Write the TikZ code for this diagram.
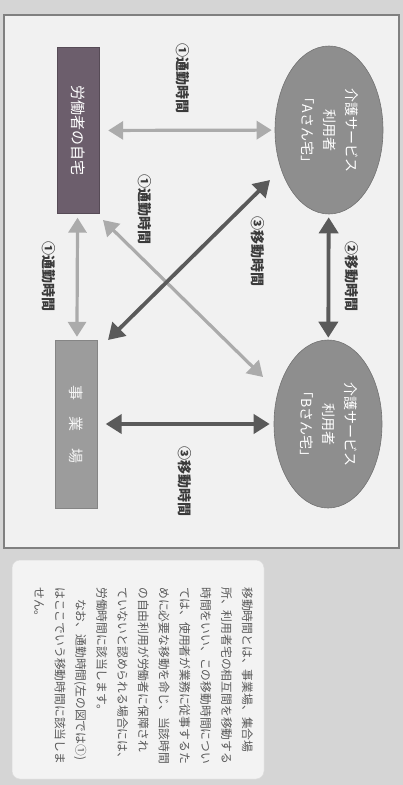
\documentclass[tikz,border=0pt]{standalone}
\usepackage{fontspec}
\setmainfont{Noto Sans CJK JP}
\usetikzlibrary{arrows.meta,shapes.geometric}
\definecolor{bgc}{HTML}{D5D5D5}
\definecolor{framec}{HTML}{F1F1F1}
\definecolor{frameb}{HTML}{808080}
\definecolor{homec}{HTML}{6C5E6C}
\definecolor{officec}{HTML}{9C9C9C}
\definecolor{ellc}{HTML}{8E8E8E}
\definecolor{lightc}{HTML}{ABABAB}
\definecolor{darkc}{HTML}{5A5A5A}
\definecolor{labc}{HTML}{3A3A3A}
\definecolor{notec}{HTML}{F3F3F3}
\definecolor{notet}{HTML}{5A5A5A}
\tikzset{
  boxnode/.style={rectangle, inner sep=0pt, minimum width=42pt, minimum height=166pt, text=white, font=\fontsize{15}{17}\selectfont},
  ellnode/.style={ellipse, inner sep=0pt, minimum width=108pt, minimum height=168pt, fill=ellc, draw=ellc!80!black, line width=0.6pt, text=white, font=\fontsize{14}{22}\selectfont},
  lightarr/.style={draw=lightc, line width=3.2pt, {Triangle[width=18pt,length=15pt]}-{Triangle[width=18pt,length=15pt]}},
  darkarr/.style={draw=darkc, line width=3.8pt, {Triangle[width=19pt,length=16pt]}-{Triangle[width=19pt,length=16pt]}},
  lbl/.style={rotate=-90, inner sep=0pt, text=labc, font=\bfseries\fontsize{14}{16}\selectfont}
}
\begin{document}
\begin{tikzpicture}[x=1pt,y=-1pt]
\useasboundingbox (0,0) rectangle (403,785);
\fill[bgc] (0,0) rectangle (403,785);
% frame
\draw[fill=framec, draw=frameb, line width=2.2pt] (4,15) rectangle (399,548);
% note box
\draw[fill=notec, draw=notec!90!black, line width=0.5pt, rounded corners=8pt] (12,560) rectangle (264,779);
% nodes
\node[boxnode, fill=homec, draw=homec!80!black] (home) at (78,130.5) {\rotatebox{-90}{労働者の自宅}};
\node[boxnode, fill=officec, draw=officec!85!black, minimum height=168pt, text=white!92!gray] (office) at (76.5,424) {\rotatebox{-90}{事\hspace{1.1em}業\hspace{1.1em}場}};
\node[ellnode] (A) at (329,130) {\rotatebox{-90}{\begin{tabular}{@{}c@{}}介護サービス\\利用者\\「Aさん宅」\end{tabular}}};
\node[ellnode] (B) at (328,424) {\rotatebox{-90}{\begin{tabular}{@{}c@{}}介護サービス\\利用者\\「Bさん宅」\end{tabular}}};
% free ends of crossing arrows
\coordinate (l1) at (103,220);
\coordinate (l2) at (263,377);
\coordinate (d1) at (270,180);
\coordinate (d2) at (108,340);
% connectors
\draw[lightarr, shorten <=9pt, shorten >=3pt] (home) -- (A);
\draw[lightarr, shorten <=4pt, shorten >=3pt] (home) -- (office);
\draw[darkarr, shorten <=3pt, shorten >=2pt] (A) -- (B);
\draw[darkarr, shorten <=8pt, shorten >=4pt] (office) -- (B);
\draw[lightarr] (l1) -- (l2);
\draw[darkarr] (d1) -- (d2);
% labels
\node[lbl] (t1) at (183,78) {①通勤時間};
\node[lbl] (t2) at (49,276) {①通勤時間};
\node[lbl] (t3) at (145,209) {①通勤時間};
\node[lbl] (t4) at (258,251) {③移動時間};
\node[lbl] (t5) at (352,276) {②移動時間};
\node[lbl] (t6) at (185,481) {③移動時間};
% note text
\node[rotate=-90, anchor=north west, inner sep=0pt, align=left, text=notet, font=\fontsize{11.8}{20.8}\selectfont] (note) at (253,587) {移動時間とは、事業場、集合場\\所、利用者宅の相互間を移動する\\時間をいい、この移動時間につい\\ては、使用者が業務に従事するた\\めに必要な移動を命じ、当該時間\\の自由利用が労働者に保障され\\ていないと認められる場合には、\\労働時間に該当します。\\　なお、通勤時間(左の図では①)\\はここでいう移動時間に該当しま\\せん。};
\end{tikzpicture}
\end{document}
